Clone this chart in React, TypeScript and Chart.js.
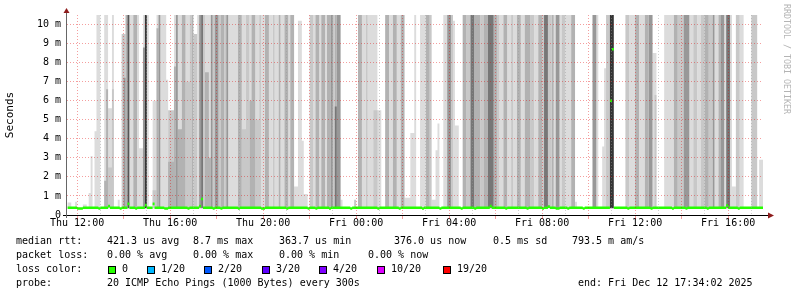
import React, { useEffect, useRef } from "react";
import { Chart, registerables } from "chart.js";

Chart.register(...registerables);

const FONT = '"DejaVu Sans Mono", monospace';

// ---- time axis (minutes since Thu 00:00) ----
const AXIS_START = 694; // Thu 11:34
const AXIS_END = 2490; // Fri 17:30
const SLOT_START = 695; // first 5-minute step, Thu 11:35
const SLOT_LEN = 5;
const SLOT_COUNT = 360;
const DAY_NAMES = ["Thu", "Fri"];

// ---- value axis (milliseconds) ----
const Y_MAX = 10.5;
const Y_TICK_STEP = 0.5;
const SMOKE_FLOOR = 0.36;
const MEDIAN_BASE = 0.38;
const MEDIAN_HALF_BAND = 0.07;

// median rtt deviations from the base level: [slot, ms]
const medianSteps: [number, number][] = [
  [5, 0.34], [6, 0.34], [7, 0.34], [16, 0.34], [21, 0.47], [27, 0.34], [31, 0.58],
  [35, 0.34], [40, 0.52], [44, 0.58], [50, 0.34], [51, 0.34], [62, 0.34], [68, 0.47],
  [69, 0.84], [75, 0.34], [79, 0.34], [88, 0.34], [100, 0.34], [101, 0.34], [113, 0.34],
  [124, 0.34], [128, 0.34], [135, 0.34], [146, 0.34], [160, 0.34], [171, 0.34],
  [183, 0.34], [192, 0.34], [203, 0.34], [210, 0.34], [218, 0.47], [226, 0.34],
  [237, 0.34], [245, 0.34], [248, 0.44], [252, 0.34], [253, 0.34], [258, 0.34],
  [266, 0.34], [280, 6.0], [281, 8.7], [289, 0.34], [301, 0.34], [312, 0.34],
  [319, 0.34], [330, 0.34], [340, 0.5], [346, 0.34],
];

// smoke grey levels, lightest (1) to darkest (7)
const shadeColors = ["#dcdcdc", "#c8c8c8", "#b2b2b2", "#989898", "#777777", "#555555", "#353535"];

// smoke columns: [first slot, end slot (exclusive), top in ms, shade]
const smokeThuAfternoon: [number, number, number, number][] = [
  [0, 2, 0.65, 1], [4, 5, 0.7, 1], [8, 10, 0.55, 1],
  [11, 12, 1.15, 1], [12, 13, 3.1, 1], [14, 15, 4.4, 1], [15, 17, 11, 1],
  [19, 21, 11, 1], [19, 21, 1.8, 3], [20, 21, 6.6, 3],
  [21, 23, 5.6, 1], [21, 23, 2.5, 2], [23, 24, 11, 1], [23, 24, 6.6, 2],
  [26, 27, 0.8, 1], [28, 30, 9.5, 2], [29, 30, 7.2, 4], [30, 31, 11, 3], [31, 32, 11, 6],
  [32, 34, 11, 1], [34, 36, 11, 3], [36, 37, 11, 1], [37, 39, 3.5, 1],
  [39, 40, 11, 1], [39, 40, 8.8, 4], [40, 41, 11, 7], [41, 42, 11, 1],
  [44, 46, 6, 1], [44, 46, 1.3, 2], [46, 47, 11, 1], [46, 47, 9.8, 3], [47, 48, 11, 4],
  [48, 51, 11, 1], [51, 52, 7.1, 1], [52, 55, 5.5, 2], [52, 55, 2.8, 3],
  [55, 56, 11, 1], [55, 56, 7.8, 3], [56, 57, 11, 4], [57, 59, 11, 1], [57, 59, 4.5, 3],
];

const smokeThuEvening: [number, number, number, number][] = [
  [59, 61, 11, 3], [61, 63, 11, 1], [61, 63, 7, 2], [63, 64, 11, 2], [64, 65, 11, 3],
  [65, 67, 9.5, 2], [67, 68, 11, 1], [68, 69, 11, 4], [69, 70, 11, 5], [70, 71, 11, 2],
  [71, 73, 11, 1], [71, 73, 7.5, 3], [73, 74, 11, 1], [73, 74, 3, 3], [74, 75, 11, 4],
  [75, 76, 11, 2], [76, 78, 11, 4], [78, 79, 11, 2], [79, 81, 11, 3], [81, 82, 11, 2],
  [82, 83, 11, 4], [83, 88, 11, 1], [88, 90, 11, 3], [90, 92, 11, 1], [90, 92, 4.5, 2],
  [92, 94, 11, 2], [94, 95, 11, 1], [94, 95, 6, 3], [95, 97, 11, 3], [97, 99, 11, 1],
  [97, 99, 5, 2], [99, 100, 11, 2], [100, 102, 11, 1], [102, 104, 11, 3], [104, 106, 11, 1],
  [106, 107, 11, 2], [107, 109, 11, 1], [109, 110, 11, 3], [110, 112, 11, 1],
  [112, 114, 11, 3], [114, 115, 11, 1], [115, 117, 11, 3], [117, 119, 1.5, 1],
];

const smokeFriNight: [number, number, number, number][] = [
  [119, 121, 10.2, 1], [119, 122, 3.9, 1], [122, 124, 1.1, 1], [125, 127, 11, 2],
  [127, 128, 11, 1], [128, 130, 11, 3], [130, 131, 11, 1], [131, 133, 11, 3],
  [133, 134, 11, 1], [134, 136, 11, 3], [136, 137, 11, 4], [137, 138, 11, 2],
  [138, 139, 11, 3], [138, 139, 5.7, 5], [139, 141, 11, 4], [141, 142, 0.8, 1],
  [148, 149, 0.8, 2], [150, 152, 11, 3], [152, 154, 11, 1], [154, 155, 11, 2],
  [155, 158, 11, 1], [158, 160, 11, 1], [158, 160, 5.5, 2], [160, 162, 5.5, 1],
  [164, 166, 11, 3], [166, 168, 11, 1], [168, 170, 11, 3], [170, 172, 11, 1],
  [172, 174, 11, 3], [174, 177, 0.9, 1], [177, 179, 4.3, 1],
];

const smokeFriEarly: [number, number, number, number][] = [
  [179, 180, 11, 1], [182, 185, 11, 1], [185, 187, 11, 3], [187, 188, 11, 2],
  [188, 190, 0.8, 1], [190, 191, 3.4, 1], [191, 192, 4.8, 1], [194, 196, 11, 1],
  [196, 198, 11, 4], [198, 199, 11, 2], [199, 200, 10.2, 1], [200, 202, 4.7, 1],
  [204, 206, 11, 3], [206, 208, 11, 2], [208, 210, 11, 5], [210, 213, 11, 3],
  [213, 215, 11, 2], [215, 217, 11, 3], [217, 220, 11, 5], [220, 222, 11, 3],
  [222, 223, 11, 2], [223, 225, 11, 1], [225, 227, 11, 3], [227, 229, 11, 1],
  [229, 230, 11, 2], [230, 232, 11, 1], [232, 234, 11, 3], [234, 236, 11, 1],
  [236, 239, 11, 3],
];

const smokeFriMorning: [number, number, number, number][] = [
  [239, 241, 11, 2], [241, 243, 11, 1], [243, 245, 11, 3], [245, 246, 11, 2],
  [246, 248, 11, 5], [248, 250, 11, 2], [250, 251, 11, 3], [251, 252, 11, 1],
  [252, 254, 11, 4], [254, 255, 11, 1], [255, 257, 11, 2], [257, 260, 11, 1],
  [260, 262, 11, 3], [262, 263, 0.7, 1], [271, 273, 11, 4], [273, 274, 11, 1],
  [276, 278, 3.6, 1], [277, 278, 7.7, 1], [278, 280, 11, 2], [280, 282, 11, 7],
  [288, 290, 11, 2], [290, 293, 11, 1], [293, 295, 11, 3], [295, 298, 11, 1],
];

const smokeFriAfternoon: [number, number, number, number][] = [
  [298, 300, 11, 3], [300, 302, 11, 4], [302, 304, 8.5, 1], [303, 304, 6.3, 2],
  [308, 313, 11, 1], [313, 315, 11, 3], [315, 318, 11, 2], [318, 321, 11, 4],
  [321, 323, 11, 1], [323, 325, 11, 2], [325, 327, 11, 1], [327, 329, 11, 2],
  [329, 331, 11, 3], [331, 333, 11, 2], [333, 334, 11, 4], [334, 336, 11, 1],
  [336, 337, 11, 3], [337, 339, 11, 4], [339, 340, 11, 1], [340, 342, 11, 5],
  [342, 343, 11, 1], [343, 345, 1.5, 1], [345, 347, 11, 2], [347, 349, 11, 1],
  [353, 356, 11, 2], [357, 359, 2.9, 1],
];

// ---- legend / statistics text ----
const statsRtt: [number, string][] = [
  [16, "median rtt:"], [107, "421.3 us avg"], [193, "8.7 ms max"], [279, "363.7 us min"],
  [394, "376.0 us now"], [493, "0.5 ms sd"], [572, "793.5 m am/s"],
];
const statsLoss: [number, string][] = [
  [16, "packet loss:"], [107, "0.00 % avg"], [193, "0.00 % max"], [279, "0.00 % min"],
  [368, "0.00 % now"],
];
const lossColorLabels = ["0", "1/20", "2/20", "3/20", "4/20", "10/20", "19/20"];
const lossColors = ["#26ff00", "#00b8ff", "#0059ff", "#5e00ff", "#7e00ff", "#dd00ff", "#ff0000"];
const lossBoxX = [108, 147, 204, 262, 319, 377, 443];
const probeLine: [number, string][] = [
  [16, "probe:"], [107, "20 ICMP Echo Pings (1000 Bytes) every 300s"],
  [578, "end: Fri Dec 12 17:34:02 2025"],
];

const allSmoke = [
  ...smokeThuAfternoon, ...smokeThuEvening, ...smokeFriNight,
  ...smokeFriEarly, ...smokeFriMorning, ...smokeFriAfternoon,
];

const slotTime = (i: number) => SLOT_START + i * SLOT_LEN;

function smokeLayer(shade: number) {
  const h: number[] = new Array(SLOT_COUNT).fill(SMOKE_FLOOR);
  for (const [a, b, top, s] of allSmoke) {
    if (s !== shade) continue;
    for (let i = a; i < b; i++) h[i] = Math.max(h[i], top);
  }
  const pts = h.map((v, i) => ({ x: slotTime(i), y: v }));
  pts.push({ x: slotTime(SLOT_COUNT), y: h[SLOT_COUNT - 1] });
  return pts;
}

function medianLayer(offset: number) {
  const m: number[] = new Array(SLOT_COUNT).fill(MEDIAN_BASE);
  for (const [i, v] of medianSteps) m[i] = v;
  const pts = m.map((v, i) => ({ x: slotTime(i), y: v + offset }));
  pts.push({ x: slotTime(SLOT_COUNT), y: m[SLOT_COUNT - 1] + offset });
  return pts;
}

function timeLabel(v: number) {
  const day = DAY_NAMES[Math.floor(v / 1440)];
  const hh = Math.floor((v % 1440) / 60);
  return `${day} ${String(hh).padStart(2, "0")}:00`;
}

const MAJOR_GRID = "rgba(225, 0, 0, 0.38)";
const MINOR_GRID = "rgba(150, 150, 150, 0.45)";

const axisArrows = {
  id: "axisArrows",
  afterDraw(chart: any) {
    const { ctx, chartArea } = chart;
    const { left, right, top, bottom } = chartArea;
    ctx.save();
    ctx.lineWidth = 1;
    ctx.strokeStyle = "#000000";
    ctx.beginPath();
    ctx.moveTo(left - 4, bottom + 0.5);
    ctx.lineTo(right + 6, bottom + 0.5);
    ctx.stroke();
    ctx.strokeStyle = "#666666";
    ctx.beginPath();
    ctx.moveTo(left - 0.5, bottom + 3);
    ctx.lineTo(left - 0.5, top - 4);
    ctx.stroke();
    ctx.fillStyle = "#8e1c1c";
    ctx.beginPath();
    ctx.moveTo(right + 5, bottom - 2.5);
    ctx.lineTo(right + 11, bottom + 0.5);
    ctx.lineTo(right + 5, bottom + 3.5);
    ctx.closePath();
    ctx.fill();
    ctx.beginPath();
    ctx.moveTo(left - 3.5, top - 2);
    ctx.lineTo(left - 0.5, top - 7);
    ctx.lineTo(left + 2.5, top - 2);
    ctx.closePath();
    ctx.fill();
    ctx.restore();
  },
};

export default function App() {
  const canvasRef = useRef<HTMLCanvasElement | null>(null);

  useEffect(() => {
    if (!canvasRef.current) return;
    const smokeSets = shadeColors.map((color, k) => ({
      label: `smoke${k + 1}`,
      data: smokeLayer(k + 1),
      stepped: true as const,
      fill: { value: SMOKE_FLOOR },
      backgroundColor: color,
      borderColor: "rgba(0,0,0,0)",
      borderWidth: 0,
      pointRadius: 0,
      order: 10 - k,
    }));
    const chart = new Chart(canvasRef.current, {
      type: "line",
      data: {
        datasets: [
          {
            label: "medianLow",
            data: medianLayer(-MEDIAN_HALF_BAND),
            stepped: true,
            fill: false,
            borderColor: "rgba(0,0,0,0)",
            borderWidth: 0,
            pointRadius: 0,
            order: 0,
          },
          {
            label: "median",
            data: medianLayer(MEDIAN_HALF_BAND),
            stepped: true,
            fill: "-1",
            backgroundColor: lossColors[0],
            borderColor: "rgba(0,0,0,0)",
            borderWidth: 0,
            pointRadius: 0,
            order: 0,
          },
          ...smokeSets,
        ] as any,
      },
      options: {
        animation: false,
        responsive: false,
        devicePixelRatio: 1,
        layout: { padding: { left: 0, right: 34, top: 15, bottom: 0 } },
        plugins: {
          legend: { display: false },
          tooltip: { enabled: false },
        },
        elements: { point: { radius: 0 }, line: { tension: 0 } },
        scales: {
          x: {
            type: "linear",
            min: AXIS_START,
            max: AXIS_END,
            grid: {
              z: 1,
              lineWidth: 1,
              color: (c: any) => (c.tick && c.tick.value % 120 === 0 ? MAJOR_GRID : MINOR_GRID),
              drawTicks: true,
              tickLength: 4,
              tickColor: (c: any) => (c.tick && c.tick.value % 120 === 0 ? MAJOR_GRID : "rgba(0,0,0,0)"),
            },
            border: { display: false, dash: [1, 2] },
            ticks: {
              stepSize: 60,
              includeBounds: false,
              autoSkip: false,
              maxRotation: 0,
              padding: -2,
              color: "#000",
              font: { family: FONT, size: 10 },
              callback: (v: any) => (Number(v) % 240 === 0 ? timeLabel(Number(v)) : ""),
            },
            afterFit: (s: any) => {
              s.height = 82;
            },
          },
          y: {
            type: "linear",
            min: 0,
            max: Y_MAX,
            grid: {
              z: 1,
              lineWidth: 1,
              drawTicks: false,
              color: (c: any) => (c.tick && Number.isInteger(c.tick.value) ? MAJOR_GRID : MINOR_GRID),
            },
            border: { display: false, dash: [1, 2] },
            ticks: {
              stepSize: Y_TICK_STEP,
              padding: 6,
              color: "#000",
              font: { family: FONT, size: 10 },
              callback: (v: any) => {
                const n = Number(v);
                if (!Number.isInteger(n)) return "";
                return n === 0 ? "0" : `${n} m`;
              },
            },
            title: {
              display: true,
              text: "Seconds",
              color: "#000",
              font: { family: FONT, size: 11 },
              padding: { top: 4, bottom: 0 },
            },
            afterFit: (s: any) => {
              s.width = 67;
            },
          },
        },
      } as any,
      plugins: [axisArrows],
    });
    return () => chart.destroy();
  }, []);

  const textStyle = (left: number, top: number): React.CSSProperties => ({
    position: "absolute",
    left,
    top,
    font: `10px ${FONT}`,
    lineHeight: "14px",
    whiteSpace: "pre",
    color: "#000",
  });

  return (
    <div
      style={{
        position: "absolute",
        left: 0,
        top: 0,
        width: 797,
        height: 297,
        background: "#fff",
        overflow: "hidden",
      }}
    >
      <canvas ref={canvasRef} width={797} height={297} style={{ display: "block" }} />
      <div
        style={{
          position: "absolute",
          left: 782,
          top: 4,
          writingMode: "vertical-rl",
          font: `8.3px ${FONT}`,
          lineHeight: "9px",
          color: "#b4b4b4",
          whiteSpace: "pre",
        }}
      >
        RRDTOOL / TOBI OETIKER
      </div>
      {statsRtt.map(([x, t], i) => (
        <div key={`r${i}`} style={textStyle(x, 234)}>{t}</div>
      ))}
      {statsLoss.map(([x, t], i) => (
        <div key={`l${i}`} style={textStyle(x, 248)}>{t}</div>
      ))}
      <div style={textStyle(16, 262)}>loss color:</div>
      {lossColorLabels.map((lab, i) => (
        <React.Fragment key={`c${i}`}>
          <div
            style={{
              position: "absolute",
              left: lossBoxX[i],
              top: 266,
              width: 8,
              height: 8,
              boxSizing: "border-box",
              border: "1px solid #000",
              background: lossColors[i],
            }}
          />
          <div style={textStyle(lossBoxX[i] + 14, 262)}>{lab}</div>
        </React.Fragment>
      ))}
      {probeLine.map(([x, t], i) => (
        <div key={`p${i}`} style={textStyle(x, 276)}>{t}</div>
      ))}
    </div>
  );
}
